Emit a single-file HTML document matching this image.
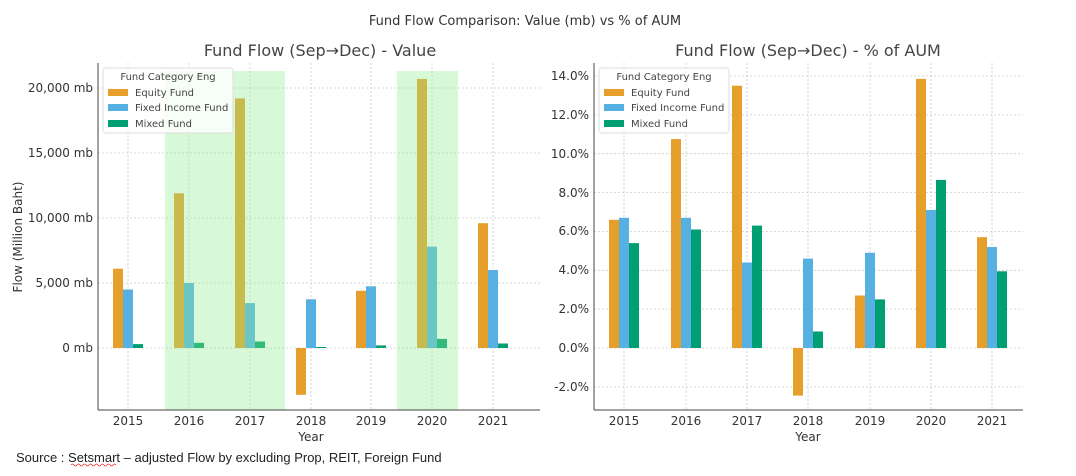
<!DOCTYPE html>
<html><head><meta charset="utf-8"><style>
body{margin:0;background:#fff;}
svg{display:block;font-family:"DejaVu Sans","Liberation Sans",sans-serif;}
</style></head><body>
<svg width="1076" height="476" viewBox="0 0 1076 476" xmlns="http://www.w3.org/2000/svg">
<rect width="1076" height="476" fill="#fff"/>
<text x="525" y="25" font-size="13" text-anchor="middle" fill="#333">Fund Flow Comparison: Value (mb) vs % of AUM</text>
<text x="320" y="56" font-size="16" text-anchor="middle" fill="#444">Fund Flow (Sep→Dec) - Value</text>
<text x="808" y="56" font-size="16" text-anchor="middle" fill="#444">Fund Flow (Sep→Dec) - % of AUM</text>

<!-- LEFT grid -->
<g stroke="#ccc" stroke-width="0.8" stroke-dasharray="2,2">
<line x1="98" y1="88" x2="540" y2="88"/><line x1="98" y1="153" x2="540" y2="153"/><line x1="98" y1="218" x2="540" y2="218"/><line x1="98" y1="283" x2="540" y2="283"/><line x1="98" y1="348" x2="540" y2="348"/>
<line x1="128" y1="63" x2="128" y2="410"/><line x1="189" y1="63" x2="189" y2="410"/><line x1="250" y1="63" x2="250" y2="410"/><line x1="311" y1="63" x2="311" y2="410"/><line x1="371" y1="63" x2="371" y2="410"/><line x1="432" y1="63" x2="432" y2="410"/><line x1="493" y1="63" x2="493" y2="410"/>
</g>
<g fill="#E69F2A">
<rect x="113" y="268.7" width="10" height="79.3"/><rect x="174" y="193.3" width="10" height="154.7"/><rect x="235" y="98.4" width="10" height="249.6"/><rect x="296" y="348" width="10" height="46.8"/><rect x="356" y="290.8" width="10" height="57.2"/><rect x="417" y="78.9" width="10" height="269.1"/><rect x="478" y="223.2" width="10" height="124.8"/>
</g>
<g fill="#56B0E2">
<rect x="123" y="289.5" width="10" height="58.5"/><rect x="184" y="283" width="10" height="65"/><rect x="245" y="303.1" width="10" height="44.9"/><rect x="306" y="299.3" width="10" height="48.7"/><rect x="366" y="286.3" width="10" height="61.7"/><rect x="427" y="246.6" width="10" height="101.4"/><rect x="488" y="270" width="10" height="78"/>
</g>
<g fill="#009E73">
<rect x="133" y="344.1" width="10" height="3.9"/><rect x="194" y="342.8" width="10" height="5.2"/><rect x="255" y="341.5" width="10" height="6.5"/><rect x="316" y="347" width="10" height="1"/><rect x="376" y="345.4" width="10" height="2.6"/><rect x="437" y="338.9" width="10" height="9.1"/><rect x="498" y="343.5" width="10" height="4.5"/>
</g>
<rect x="165" y="71" width="120" height="339" fill="#90EE90" opacity="0.35"/>
<rect x="397" y="71" width="61" height="339" fill="#90EE90" opacity="0.35"/>
<line x1="98" y1="63" x2="98" y2="410" stroke="#444" stroke-width="1"/>
<line x1="98" y1="410" x2="540" y2="410" stroke="#444" stroke-width="1"/>
<g font-size="12" fill="#333" text-anchor="end">
<text x="93" y="92">20,000 mb</text><text x="93" y="157">15,000 mb</text><text x="93" y="222">10,000 mb</text><text x="93" y="287">5,000 mb</text><text x="93" y="352">0 mb</text>
</g>
<g font-size="12" fill="#333" text-anchor="middle">
<text x="128" y="425">2015</text><text x="189" y="425">2016</text><text x="250" y="425">2017</text><text x="311" y="425">2018</text><text x="371" y="425">2019</text><text x="432" y="425">2020</text><text x="493" y="425">2021</text>
<text x="311" y="441">Year</text>
</g>
<text transform="translate(22,237) rotate(-90)" font-size="12" fill="#333" text-anchor="middle">Flow (Million Baht)</text>
<!-- left legend -->
<rect x="103" y="68" width="130" height="65" rx="3" fill="#fff" fill-opacity="0.8" stroke="#ddd"/>
<text x="168" y="80" font-size="10" fill="#444" text-anchor="middle">Fund Category Eng</text>
<rect x="108" y="89" width="20" height="7" fill="#E69F2A"/><text x="135" y="96" font-size="10" fill="#444">Equity Fund</text>
<rect x="108" y="104" width="20" height="7" fill="#56B0E2"/><text x="135" y="111" font-size="10" fill="#444">Fixed Income Fund</text>
<rect x="108" y="120" width="20" height="7" fill="#009E73"/><text x="135" y="127" font-size="10" fill="#444">Mixed Fund</text>

<!-- RIGHT grid -->
<g stroke="#ccc" stroke-width="0.8" stroke-dasharray="2,2">
<line x1="594" y1="76" x2="1023" y2="76"/><line x1="594" y1="114.9" x2="1023" y2="114.9"/><line x1="594" y1="153.7" x2="1023" y2="153.7"/><line x1="594" y1="192.6" x2="1023" y2="192.6"/><line x1="594" y1="231.4" x2="1023" y2="231.4"/><line x1="594" y1="270.3" x2="1023" y2="270.3"/><line x1="594" y1="309.1" x2="1023" y2="309.1"/><line x1="594" y1="348" x2="1023" y2="348"/><line x1="594" y1="386.9" x2="1023" y2="386.9"/>
<line x1="624" y1="63" x2="624" y2="410"/><line x1="686" y1="63" x2="686" y2="410"/><line x1="747" y1="63" x2="747" y2="410"/><line x1="808" y1="63" x2="808" y2="410"/><line x1="870" y1="63" x2="870" y2="410"/><line x1="931" y1="63" x2="931" y2="410"/><line x1="992" y1="63" x2="992" y2="410"/>
</g>
<g fill="#E69F2A">
<rect x="609" y="219.8" width="10" height="128.2"/><rect x="671" y="139.1" width="10" height="208.9"/><rect x="732" y="85.7" width="10" height="262.3"/><rect x="793" y="348" width="10" height="47.6"/><rect x="855" y="295.5" width="10" height="52.5"/><rect x="916" y="78.9" width="10" height="269.1"/><rect x="977" y="237.2" width="10" height="110.8"/>
</g>
<g fill="#56B0E2">
<rect x="619" y="217.8" width="10" height="130.2"/><rect x="681" y="217.8" width="10" height="130.2"/><rect x="742" y="262.5" width="10" height="85.5"/><rect x="803" y="258.6" width="10" height="89.4"/><rect x="865" y="252.8" width="10" height="95.2"/><rect x="926" y="210" width="10" height="138"/><rect x="987" y="247" width="10" height="101"/>
</g>
<g fill="#009E73">
<rect x="629" y="243.1" width="10" height="104.9"/><rect x="691" y="229.5" width="10" height="118.5"/><rect x="752" y="225.6" width="10" height="122.4"/><rect x="813" y="331.5" width="10" height="16.5"/><rect x="875" y="299.4" width="10" height="48.6"/><rect x="936" y="179.9" width="10" height="168.1"/><rect x="997" y="271.3" width="10" height="76.7"/>
</g>
<line x1="594" y1="63" x2="594" y2="410" stroke="#444" stroke-width="1"/>
<line x1="594" y1="410" x2="1023" y2="410" stroke="#444" stroke-width="1"/>
<g font-size="12" fill="#333" text-anchor="end">
<text x="589" y="80">14.0%</text><text x="589" y="119">12.0%</text><text x="589" y="158">10.0%</text><text x="589" y="197">8.0%</text><text x="589" y="235">6.0%</text><text x="589" y="274">4.0%</text><text x="589" y="313">2.0%</text><text x="589" y="352">0.0%</text><text x="589" y="391">-2.0%</text>
</g>
<g font-size="12" fill="#333" text-anchor="middle">
<text x="624" y="425">2015</text><text x="686" y="425">2016</text><text x="747" y="425">2017</text><text x="808" y="425">2018</text><text x="870" y="425">2019</text><text x="931" y="425">2020</text><text x="992" y="425">2021</text>
<text x="808" y="441">Year</text>
</g>
<!-- right legend -->
<rect x="599" y="68" width="130" height="65" rx="3" fill="#fff" fill-opacity="0.8" stroke="#ddd"/>
<text x="664" y="80" font-size="10" fill="#444" text-anchor="middle">Fund Category Eng</text>
<rect x="604" y="89" width="20" height="7" fill="#E69F2A"/><text x="631" y="96" font-size="10" fill="#444">Equity Fund</text>
<rect x="604" y="104" width="20" height="7" fill="#56B0E2"/><text x="631" y="111" font-size="10" fill="#444">Fixed Income Fund</text>
<rect x="604" y="120" width="20" height="7" fill="#009E73"/><text x="631" y="127" font-size="10" fill="#444">Mixed Fund</text>

<text x="16" y="462" font-size="13" fill="#222" font-family="Liberation Sans, sans-serif">Source : Setsmart – adjusted Flow by excluding Prop, REIT, Foreign Fund</text>
<path d="M71 465 q1.5 -2 3 0 t3 0 t3 0 t3 0 t3 0 t3 0 t3 0 t3 0 t3 0 t3 0 t3 0 t3 0 t3 0 t3 0 t3 0" fill="none" stroke="#e33" stroke-width="0.8"/>
</svg>
</body></html>
